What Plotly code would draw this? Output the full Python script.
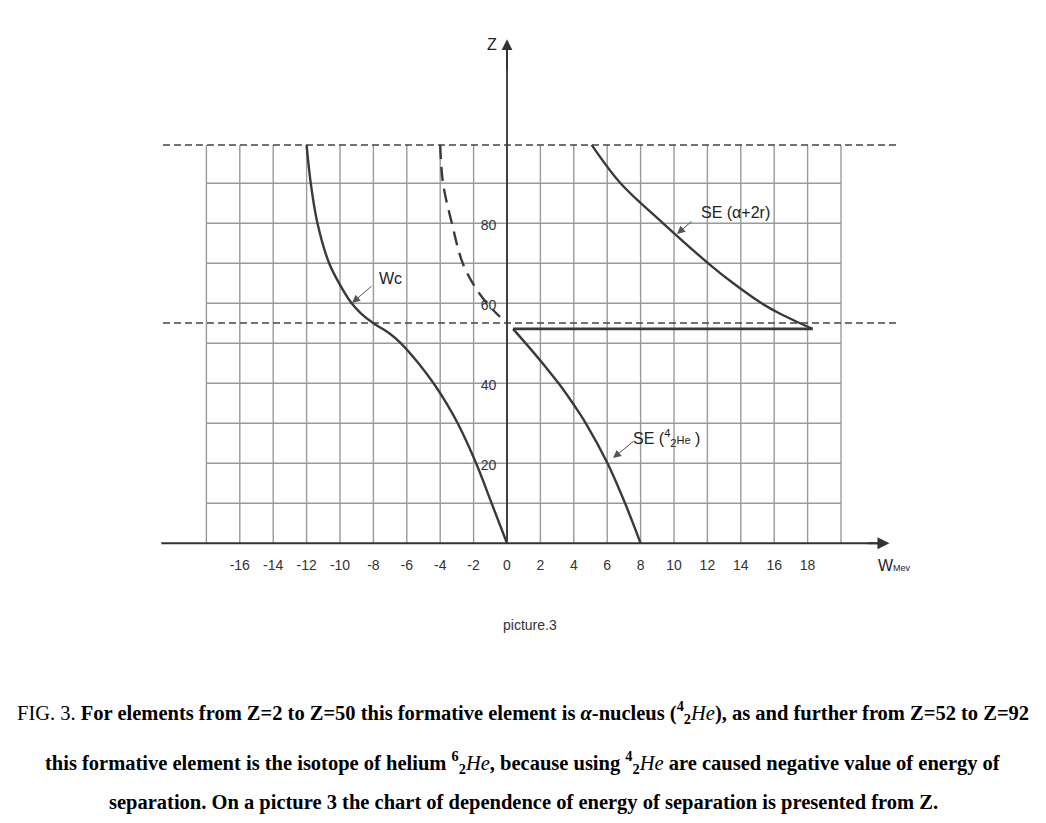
import plotly.graph_objects as go

# ---------------- data ----------------
# Wc curve (W in MeV, Z)
wc_w = [0.0, -0.92, -1.85, -2.95, -3.62, -4.4, -5.3, -6.35, -7.05, -8.0, -8.75, -9.3, -10.05, -10.65, -11.35, -11.75, -12.0]
wc_z = [0, 10, 20, 30, 35, 40, 45, 50, 52.5, 55, 57.5, 60, 65, 70, 80, 90, 99.6]

# dashed curve
dash_w = [-4.0, -3.83, -3.3, -2.65, -1.9, -1.2, -0.42]
dash_z = [99.6, 90, 80, 70, 64, 60, 56.6]

# SE (alpha+2r) curve, then the horizontal segment back to W~0.4
se2r_w = [5.07, 6.8, 9.35, 12.05, 13.55, 15.25, 16.3, 17.45, 18.3, 0.36]
se2r_z = [99.6, 90, 80, 70, 65, 60, 57.5, 55.2, 53.6, 53.6]

# SE (4/2 He) curve
sehe_w = [0.36, 1.47, 2.29, 3.09, 3.94, 4.72, 6.02, 7.07, 8.0]
sehe_z = [53.6, 48.3, 44.2, 40, 35, 30, 20, 10, 0]

# reference dashed levels of Z
z_levels = [99.6, 55.1]

# grid
grid_w = list(range(-18, 21, 2))
grid_z = list(range(10, 100, 10))
grid_top = 99.6

# tick labels
x_ticks = [-16, -14, -12, -10, -8, -6, -4, -2, 0, 2, 4, 6, 8, 10, 12, 14, 16, 18]
z_ticks = [20, 40, 60, 80]

# ---------------- figure ----------------
PAGE_OFF = 8                      # default body margin of the html page
W, H = 1046 - 2 * PAGE_OFF, 823 - 2 * PAGE_OFF
PX_PER_W = 16.7
PX_PER_Z = 4.0
X0_PX, Y0_PX = 507 - PAGE_OFF, 543.3 - PAGE_OFF
x_range = [-X0_PX / PX_PER_W, (W - X0_PX) / PX_PER_W]
y_range = [-(H - Y0_PX) / PX_PER_Z, Y0_PX / PX_PER_Z]

fig = go.Figure()

# grid lines
gx, gy = [], []
for w in grid_w:
    gx += [w, w, None]
    gy += [0, grid_top, None]
for z in grid_z:
    gx += [grid_w[0], grid_w[-1], None]
    gy += [z, z, None]
fig.add_trace(go.Scatter(x=gx, y=gy, mode="lines",
                         line=dict(color="#9a9a9a", width=1.4),
                         hoverinfo="skip", showlegend=False))

# dashed horizontal levels
for z in z_levels:
    fig.add_trace(go.Scatter(x=[-20.6, 23.4], y=[z, z], mode="lines",
                             line=dict(color="#444444", width=1.5, dash="7px,4px"),
                             hoverinfo="skip", showlegend=False))

# axes lines
fig.add_trace(go.Scatter(x=[-20.7, 22.6], y=[0, 0], mode="lines",
                         line=dict(color="#333333", width=2),
                         hoverinfo="skip", showlegend=False))
fig.add_trace(go.Scatter(x=[0, 0], y=[0, 124.5], mode="lines",
                         line=dict(color="#333333", width=1.8),
                         hoverinfo="skip", showlegend=False))

curve_col = "#3a3a3a"
spl = dict(shape="spline", smoothing=1.0)
fig.add_trace(go.Scatter(x=wc_w, y=wc_z, mode="lines", line=dict(color=curve_col, width=2.4, **spl),
                         name="Wc", showlegend=False))
fig.add_trace(go.Scatter(x=dash_w, y=dash_z, mode="lines", line=dict(color=curve_col, width=2.4, dash="14px,8px", **spl),
                         showlegend=False))
fig.add_trace(go.Scatter(x=se2r_w[:-1], y=se2r_z[:-1], mode="lines", line=dict(color=curve_col, width=2.4, **spl),
                         name="SE (α+2r)", showlegend=False))
fig.add_trace(go.Scatter(x=se2r_w[-2:], y=se2r_z[-2:], mode="lines", line=dict(color=curve_col, width=2.6),
                         showlegend=False))
fig.add_trace(go.Scatter(x=sehe_w, y=sehe_z, mode="lines", line=dict(color=curve_col, width=2.4, **spl),
                         name="SE (He)", showlegend=False))

lab_font = dict(family="Liberation Sans, Arial, sans-serif", size=14, color="#333333")

# x tick labels
fig.add_trace(go.Scatter(x=x_ticks, y=[-5.7] * len(x_ticks), mode="text",
                         text=[str(v) for v in x_ticks], textfont=lab_font,
                         hoverinfo="skip", showlegend=False))
# z tick labels
fig.add_trace(go.Scatter(x=[-1.1] * len(z_ticks), y=[v - 0.8 for v in z_ticks], mode="text",
                         text=[str(v) for v in z_ticks], textfont=lab_font,
                         hoverinfo="skip", showlegend=False))

ann = []
# axis arrowheads
ann.append(dict(x=0, y=126, ax=0, ay=118, xref="x", yref="y", axref="x", ayref="y",
                showarrow=True, arrowhead=2, arrowsize=1.2, arrowwidth=1.8, arrowcolor="#333333", text=""))
ann.append(dict(x=22.9, y=0, ax=21.5, ay=0, xref="x", yref="y", axref="x", ayref="y",
                showarrow=True, arrowhead=2, arrowsize=1.2, arrowwidth=2, arrowcolor="#333333", text=""))

# pointer arrows
for (hx, hz, tx, tz) in [(-9.28, 60.1, -8.02, 64.6), (10.18, 77.3, 11.14, 80.8), (6.35, 21.3, 7.66, 25.8)]:
    ann.append(dict(x=hx, y=hz, ax=tx, ay=tz, xref="x", yref="y", axref="x", ayref="y",
                    showarrow=True, arrowhead=2, arrowsize=1.6, arrowwidth=1, arrowcolor="#555555", text=""))

txt_font = dict(family="Liberation Sans, Arial, sans-serif", size=16, color="#222222")
ann.append(dict(x=-7.0, y=66.1, xref="x", yref="y", text="Wc", showarrow=False, font=txt_font))
ann.append(dict(x=13.71, y=82.6, xref="x", yref="y", text="SE (α+2r)", showarrow=False, font=txt_font))
ann.append(dict(x=9.58, y=26.3, xref="x", yref="y",
                text="SE (<sup>4</sup><sub>2</sub><span style='font-size:11px'>He</span> )",
                showarrow=False, font=txt_font))
ann.append(dict(x=-0.9, y=124.6, xref="x", yref="y", text="Z", showarrow=False, font=txt_font))
ann.append(dict(x=22.1, y=-5.6, xref="x", yref="y", xanchor="left",
                text="W<span style='font-size:9px'>Mev</span>", showarrow=False, font=txt_font))
ann.append(dict(x=1.38, y=-20.4, xref="x", yref="y", text="picture.3", showarrow=False,
                font=dict(family="Liberation Sans, Arial, sans-serif", size=14, color="#333333")))

# caption
cap_font = dict(family="Liberation Serif, Times New Roman, serif", size=20.5, color="#000000")
caption = [
    "FIG. 3. <b>For elements from Z=2 to Z=50 this formative element is <i>α</i>-nucleus (<sup>4</sup><sub>2</sub></b><i>He</i><b>), as and further from Z=52 to Z=92</b>",
    "<b>this formative element is the isotope of helium <sup>6</sup><sub>2</sub></b><i>He</i><b>, because using <sup>4</sup><sub>2</sub></b><i>He</i><b> are caused negative value of energy of</b>",
    "<b>separation. On a picture 3 the chart of dependence of energy of separation is presented from Z.</b>",
]
for txt, py in zip(caption, [712, 762, 802]):
    ann.append(dict(x=(523 - PAGE_OFF) / W, y=1 - (py - PAGE_OFF) / H, xref="paper", yref="paper", text=txt,
                    showarrow=False, font=cap_font, xanchor="center", yanchor="middle"))

fig.update_layout(
    width=W, height=H, autosize=False,
    margin=dict(l=0, r=0, t=0, b=0),
    paper_bgcolor="white", plot_bgcolor="white",
    xaxis=dict(range=x_range, visible=False, fixedrange=True),
    yaxis=dict(range=y_range, visible=False, fixedrange=True),
    annotations=ann,
    showlegend=False,
)

fig.write_html("out.html")
